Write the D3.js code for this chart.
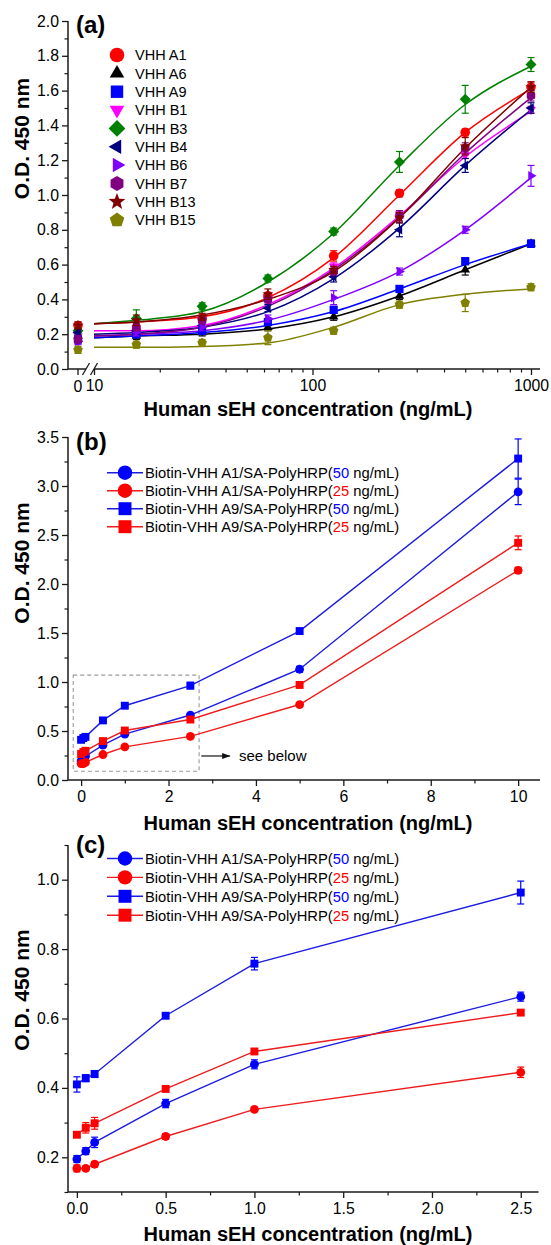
<!DOCTYPE html>
<html><head><meta charset="utf-8">
<script src="https://cdn.jsdelivr.net/npm/d3@7"></script>
<style>
body{margin:0;background:#fff}
svg{display:block}
text{font-family:"Liberation Sans",Arial,Helvetica,sans-serif;fill:#000}
</style>
</head><body>
<svg id="chart" width="551" height="1245"></svg>
<script>
// ---------------- DATA ----------------
// Panel (a): concentration (ng/mL); 0 is drawn left of the axis break
const concA = [0, 15.625, 31.25, 62.5, 125, 250, 500, 1000];
const fitConcA = [10, 15.625, 31.25, 62.5, 125, 250, 500, 1000];
const namesA = ["VHH A1","VHH A6","VHH A9","VHH B1","VHH B3","VHH B4","VHH B6","VHH B7","VHH B13","VHH B15"];
const odA1  = [0.25,0.22,0.29,0.42,0.65,1.01,1.36,1.62];
const odA6  = [0.19,0.19,0.21,0.24,0.30,0.42,0.57,0.72];
const odA9  = [0.17,0.20,0.22,0.27,0.34,0.46,0.62,0.72];
const odB1  = [0.19,0.23,0.28,0.40,0.59,0.89,1.23,1.49];
const odB3  = [0.22,0.29,0.36,0.52,0.79,1.19,1.55,1.75];
const odB4  = [0.21,0.22,0.25,0.35,0.53,0.80,1.17,1.50];
const odB6  = [0.16,0.21,0.24,0.29,0.41,0.56,0.80,1.11];
const odB7  = [0.17,0.24,0.28,0.40,0.56,0.88,1.27,1.57];
const odB13 = [0.25,0.28,0.30,0.43,0.57,0.87,1.28,1.62];
const odB15 = [0.11,0.14,0.15,0.18,0.22,0.37,0.38,0.47];
const errA1  = [0.02,0.02,0.02,0.02,0.03,0.02,0.02,0.03];
const errA6  = [0.02,0.02,0.02,0.02,0.02,0.02,0.03,0.02];
const errA9  = [0.02,0.02,0.02,0.02,0.02,0.02,0.02,0.02];
const errB1  = [0.02,0.02,0.02,0.02,0.02,0.02,0.02,0.02];
const errB3  = [0.02,0.05,0.02,0.02,0.02,0.06,0.08,0.04];
const errB4  = [0.02,0.02,0.02,0.02,0.03,0.04,0.04,0.03];
const errB6  = [0.02,0.02,0.02,0.02,0.04,0.02,0.02,0.06];
const errB7  = [0.02,0.02,0.02,0.02,0.02,0.03,0.03,0.03];
const errB13 = [0.02,0.03,0.02,0.03,0.02,0.03,0.05,0.03];
const errB15 = [0.02,0.02,0.02,0.04,0.02,0.02,0.05,0.02];
// fitted sigmoid curves at fitConcA
const fitA1  = [0.26,0.27,0.30,0.41,0.64,1.00,1.36,1.61];
const fitA6  = [0.18,0.19,0.20,0.23,0.30,0.42,0.57,0.72];
const fitA9  = [0.18,0.19,0.21,0.25,0.33,0.46,0.60,0.72];
const fitB1  = [0.22,0.22,0.25,0.37,0.58,0.88,1.22,1.48];
const fitB3  = [0.26,0.28,0.33,0.50,0.78,1.17,1.52,1.74];
const fitB4  = [0.20,0.21,0.24,0.33,0.52,0.81,1.17,1.49];
const fitB6  = [0.19,0.20,0.22,0.28,0.40,0.56,0.80,1.10];
const fitB7  = [0.19,0.20,0.24,0.36,0.57,0.87,1.24,1.56];
const fitB13 = [0.26,0.27,0.31,0.40,0.56,0.87,1.27,1.62];
const fitB15 = [0.125,0.125,0.13,0.15,0.24,0.37,0.43,0.46];

// Panels (b) and (c): concentration (ng/mL)
const concB = [0, 0.05, 0.1, 0.5, 1, 2.5, 5, 10];
const odA1_50 = [0.195,0.218,0.243,0.355,0.468,0.663,1.13,2.94];
const odA1_25 = [0.168,0.168,0.180,0.260,0.338,0.445,0.77,2.14];
const odA9_50 = [0.410,0.428,0.440,0.608,0.758,0.963,1.52,3.28];
const odA9_25 = [0.265,0.285,0.298,0.397,0.505,0.617,0.97,2.42];
const errA1_50 = [0.010,0.010,0.015,0.012,0.013,0.013,0.03,0.13];
const errA1_25 = [0.010,0.005,0.008,0.008,0.006,0.015,0.02,0.03];
const errA9_50 = [0.022,0.010,0.010,0.008,0.018,0.033,0.02,0.20];
const errA9_25 = [0.005,0.015,0.017,0.006,0.006,0.006,0.02,0.07];
const legendB = ["Biotin-VHH A1/SA-PolyHRP(","Biotin-VHH A1/SA-PolyHRP(","Biotin-VHH A9/SA-PolyHRP(","Biotin-VHH A9/SA-PolyHRP("];
const legendDose = ["50","25","50","25"];

// tick values
const yTicksA = [0,0.2,0.4,0.6,0.8,1.0,1.2,1.4,1.6,1.8,2.0];
const xTicksA = [10,100,1000];
const yTicksB = [0,0.5,1.0,1.5,2.0,2.5,3.0,3.5];
const xTicksB = [0,2,4,6,8,10];
const yTicksC = [0.2,0.4,0.6,0.8,1.0];
const xTicksC = [0,0.5,1.0,1.5,2.0,2.5];

// ---------------- HELPERS ----------------
const svg = d3.select("#chart");
const AX = "#1a1a1a";
function poly(n, r, rot){
  const p=[];
  for(let i=0;i<n;i++){const a=(rot+i*360/n)*Math.PI/180;p.push([r*Math.cos(a),r*Math.sin(a)]);}
  return "M"+p.map(q=>q[0].toFixed(2)+","+q[1].toFixed(2)).join("L")+"Z";
}
function star(r){
  const p=[];
  for(let i=0;i<10;i++){const a=(-90+i*36)*Math.PI/180;const rr=i%2?r*0.42:r;p.push([rr*Math.cos(a),rr*Math.sin(a)]);}
  return "M"+p.map(q=>q[0].toFixed(2)+","+q[1].toFixed(2)).join("L")+"Z";
}
function shapePath(type, r){
  switch(type){
    case "circle": return d3.symbol(d3.symbolCircle, Math.PI*r*r)();
    case "square": {const s=r*0.85;return `M${-s},${-s}h${2*s}v${2*s}h${-2*s}Z`;}
    case "up": return poly(3,r*1.15,-90);
    case "down": return poly(3,r*1.15,90);
    case "left": return poly(3,r*1.15,180);
    case "right": return poly(3,r*1.15,0);
    case "diamond": return poly(4,r*1.15,-90);
    case "hexagon": return poly(6,r*1.02,-90);
    case "pentagon": return poly(5,r*1.05,-90);
    case "star": return star(r*1.2);
  }
}
function yAxisDraw(g, y, major, minor, fmt){
  g.append("g").attr("transform","translate(68,0)")
   .call(d3.axisLeft(y).tickValues(major).tickSize(6).tickPadding(3).tickFormat(fmt))
   .call(s=>{s.select(".domain").remove();s.selectAll("line").attr("stroke",AX).attr("stroke-width",1.3);
     s.selectAll("text").attr("font-size",15.8).attr("fill","#111").style("font-family","'Liberation Sans',Arial,sans-serif");});
  g.append("g").attr("transform","translate(68,0)")
   .call(d3.axisLeft(y).tickValues(minor).tickSize(3.5).tickFormat(""))
   .call(s=>{s.select(".domain").remove();s.selectAll("line").attr("stroke",AX).attr("stroke-width",1.2);});
  const r=y.range();
  g.append("line").attr("x1",68).attr("x2",68).attr("y1",r[0]).attr("y2",r[1]).attr("stroke",AX).attr("stroke-width",1.5);
}
function xAxisDraw(g, x, yPos, major, minor, fmt, drawDomain){
  g.append("g").attr("transform",`translate(0,${yPos})`)
   .call(d3.axisBottom(x).tickValues(major).tickSize(6).tickPadding(5).tickFormat(fmt))
   .call(s=>{s.select(".domain").remove();s.selectAll("line").attr("stroke",AX).attr("stroke-width",1.3);
     s.selectAll("text").attr("font-size",15.8).attr("fill","#111").style("font-family","'Liberation Sans',Arial,sans-serif");});
  g.append("g").attr("transform",`translate(0,${yPos})`)
   .call(d3.axisBottom(x).tickValues(minor).tickSize(3.5).tickFormat(""))
   .call(s=>{s.select(".domain").remove();s.selectAll("line").attr("stroke",AX).attr("stroke-width",1.2);});
  if(drawDomain){const r=x.range();
    g.append("line").attr("x1",r[0]).attr("x2",r[1]).attr("y1",yPos).attr("y2",yPos).attr("stroke",AX).attr("stroke-width",1.5);}
}
function titles(g, cx, yBase, ycy, label, lx, ly){
  g.append("text").attr("x",cx).attr("y",yBase).attr("text-anchor","middle").attr("font-size",20).attr("font-weight","bold")
   .text("Human sEH concentration (ng/mL)");
  g.append("text").attr("transform",`translate(28.5,${ycy}) rotate(-90)`).attr("text-anchor","middle").attr("font-size",21).attr("font-weight","bold")
   .text("O.D. 450 nm");
  g.append("text").attr("x",lx).attr("y",ly).attr("font-size",24).attr("font-weight","bold").text(label);
}
function errorBars(g, pts, x, y, color){
  pts.forEach(p=>{
    const xx=x(p.c), y1=y(p.v-p.e), y2=y(p.v+p.e);
    g.append("line").attr("x1",xx).attr("x2",xx).attr("y1",y1).attr("y2",y2).attr("stroke",color).attr("stroke-width",1.2);
    [y1,y2].forEach(yy=>g.append("line").attr("x1",xx-3.5).attr("x2",xx+3.5).attr("y1",yy).attr("y2",yy).attr("stroke",color).attr("stroke-width",1.2));
  });
}

// ---------------- PANEL (a) ----------------
const gA = svg.append("g");
const xA = d3.scaleLog().domain([10,1000]).range([94,531]);
const xZero = 78;
const yA = d3.scaleLinear().domain([0,2]).range([369,21]);
const xPosA = c => c===0 ? xZero : xA(c);

const seriesA = [
  {color:"#ff0000", shape:"circle",   od:odA1,  err:errA1,  fit:fitA1},
  {color:"#000000", shape:"up",       od:odA6,  err:errA6,  fit:fitA6},
  {color:"#0000ff", shape:"square",   od:odA9,  err:errA9,  fit:fitA9},
  {color:"#ff00ff", shape:"down",     od:odB1,  err:errB1,  fit:fitB1},
  {color:"#008000", shape:"diamond",  od:odB3,  err:errB3,  fit:fitB3},
  {color:"#000080", shape:"left",     od:odB4,  err:errB4,  fit:fitB4},
  {color:"#8000ff", shape:"right",    od:odB6,  err:errB6,  fit:fitB6},
  {color:"#800080", shape:"hexagon",  od:odB7,  err:errB7,  fit:fitB7},
  {color:"#800000", shape:"star",     od:odB13, err:errB13, fit:fitB13},
  {color:"#808000", shape:"pentagon", od:odB15, err:errB15, fit:fitB15}
];
seriesA.forEach((s,i)=>s.name=namesA[i]);

yAxisDraw(gA, yA, yTicksA, d3.range(0.1,2.0,0.2).map(v=>+v.toFixed(1)), d3.format(".1f"));
const minorA = [20,30,40,50,60,70,80,90,200,300,400,500,600,700,800,900];
xAxisDraw(gA, xA, 369, xTicksA, minorA, d3.format("d"), false);
// zero tick and broken axis line
gA.append("line").attr("x1",xZero).attr("x2",xZero).attr("y1",369).attr("y2",375).attr("stroke",AX).attr("stroke-width",1.3);
gA.append("text").attr("x",xZero).attr("y",391.5).attr("text-anchor","middle").attr("font-size",15.8).attr("fill","#111").text("0");
gA.append("line").attr("x1",68).attr("x2",86).attr("y1",369).attr("y2",369).attr("stroke",AX).attr("stroke-width",1.5);
gA.append("line").attr("x1",94).attr("x2",540).attr("y1",369).attr("y2",369).attr("stroke",AX).attr("stroke-width",1.5);
[86,94].forEach(bx=>gA.append("line").attr("x1",bx-3.5).attr("x2",bx+3.5).attr("y1",375).attr("y2",363).attr("stroke",AX).attr("stroke-width",1.3));
titles(gA, 308, 416, 138.5, "(a)", 76, 33);

const lineFit = d3.line().x(d=>xA(d[0])).y(d=>yA(d[1])).curve(d3.curveMonotoneX);
seriesA.forEach(s=>{
  gA.append("path").attr("d",lineFit(fitConcA.map((c,i)=>[c,s.fit[i]]))).attr("fill","none").attr("stroke",s.color).attr("stroke-width",1.5);
});
seriesA.forEach(s=>{
  const pts = concA.map((c,i)=>({c, v:s.od[i], e:s.err[i]}));
  errorBars(gA, pts, xPosA, yA, s.color);
  gA.append("g").selectAll("path").data(pts).join("path")
    .attr("transform",d=>`translate(${xPosA(d.c)},${yA(d.v)})`)
    .attr("d",shapePath(s.shape,4.8)).attr("fill",s.color);
});
// legend (a)
seriesA.forEach((s,i)=>{
  const yy = 55 + i*18.35;
  gA.append("path").attr("transform",`translate(117,${yy})`).attr("d",shapePath(s.shape,7.3)).attr("fill",s.color);
  gA.append("text").attr("x",135).attr("y",yy+5.2).attr("font-size",14.5).text(s.name);
});

// ---------------- PANELS (b) & (c) ----------------
const BLUE="#0000ff", RED="#ff0000", BLUEL="#1c1ce0", REDL="#ee1c1c";
const seriesB = [
  {od:odA1_50, err:errA1_50, mk:"circle", mc:BLUE, lc:BLUEL, dc:BLUE},
  {od:odA1_25, err:errA1_25, mk:"circle", mc:RED,  lc:REDL,  dc:RED},
  {od:odA9_50, err:errA9_50, mk:"square", mc:BLUE, lc:BLUEL, dc:BLUE},
  {od:odA9_25, err:errA9_25, mk:"square", mc:RED,  lc:REDL,  dc:RED}
];
function markerB(type, r){ return type==="circle" ? d3.symbol(d3.symbolCircle, Math.PI*r*r)() : `M${-r*0.9},${-r*0.9}h${1.8*r}v${1.8*r}h${-1.8*r}Z`; }

function drawPanel(g, x, y, n){
  const line = d3.line().x(d=>x(d.c)).y(d=>y(d.v));
  seriesB.forEach(s=>{
    const pts = concB.slice(0,n).map((c,i)=>({c, v:s.od[i], e:s.err[i]}));
    g.append("path").attr("d",line(pts)).attr("fill","none").attr("stroke",s.lc).attr("stroke-width",1.4);
  });
  seriesB.forEach(s=>{
    const pts = concB.slice(0,n).map((c,i)=>({c, v:s.od[i], e:s.err[i]}));
    errorBars(g, pts, x, y, s.dc);
    g.append("g").selectAll("path").data(pts).join("path")
      .attr("transform",d=>`translate(${x(d.c)},${y(d.v)})`).attr("d",markerB(s.mk,4.4)).attr("fill",s.mc);
  });
}
function drawLegendB(g, y0, step){
  seriesB.forEach((s,i)=>{
    const yy = y0 + i*step;
    g.append("line").attr("x1",107).attr("x2",143).attr("y1",yy).attr("y2",yy).attr("stroke",s.lc).attr("stroke-width",1.4);
    g.append("path").attr("transform",`translate(125,${yy})`).attr("d",markerB(s.mk,7.2)).attr("fill",s.mc);
    const t = g.append("text").attr("x",145).attr("y",yy+5.3).attr("font-size",14.75);
    t.append("tspan").text(legendB[i]);
    t.append("tspan").attr("fill", legendDose[i]==="50"?BLUE:RED).text(legendDose[i]);
    t.append("tspan").text(" ng/mL)");
  });
}

// (b)
const gB = svg.append("g");
const xB = d3.scaleLinear().domain([-0.3,10.5]).range([68,540]);
const yB = d3.scaleLinear().domain([0,3.5]).range([780,437]);
yAxisDraw(gB, yB, yTicksB, d3.range(0.25,3.5,0.5), d3.format(".1f"));
xAxisDraw(gB, xB, 780, xTicksB, [1,3,5,7,9], d3.format("d"), true);
titles(gB, 308, 830, 563, "(b)", 76, 450);
// dashed zoom box + arrow
gB.append("rect").attr("x",xB(-0.18)).attr("y",yB(1.07)).attr("width",xB(2.7)-xB(-0.18)).attr("height",yB(0.09)-yB(1.07))
  .attr("fill","none").attr("stroke","#9a9a9a").attr("stroke-width",1.1).attr("stroke-dasharray","4,3");
gB.append("defs").append("marker").attr("id","arr").attr("viewBox","0 0 10 10").attr("refX",9).attr("refY",5)
  .attr("markerWidth",7).attr("markerHeight",7).attr("orient","auto")
  .append("path").attr("d","M0,1.5L10,5L0,8.5Z").attr("fill","#111");
gB.append("line").attr("x1",xB(2.75)).attr("x2",xB(3.4)).attr("y1",yB(0.245)).attr("y2",yB(0.245)).attr("stroke","#111").attr("stroke-width",1.2).attr("marker-end","url(#arr)");
gB.append("text").attr("x",239).attr("y",yB(0.245)+5.3).attr("font-size",15).text("see below");
drawPanel(gB, xB, yB, 8);
drawLegendB(gB, 472.7, 18);

// (c)
const gC = svg.append("g");
const xC = d3.scaleLinear().domain([-0.05,2.6]).range([68,538.5]);
const yC = d3.scaleLinear().domain([0.1,1.1]).range([1192,845]);
yAxisDraw(gC, yC, yTicksC, [0.1,0.3,0.5,0.7,0.9,1.1], d3.format(".1f"));
xAxisDraw(gC, xC, 1192, xTicksC, [0.25,0.75,1.25,1.75,2.25], d3.format(".1f"), true);
titles(gC, 308, 1241, 990, "(c)", 76, 853);
drawPanel(gC, xC, yC, 6);
drawLegendB(gC, 858.5, 18.9);
</script>
</body></html>
